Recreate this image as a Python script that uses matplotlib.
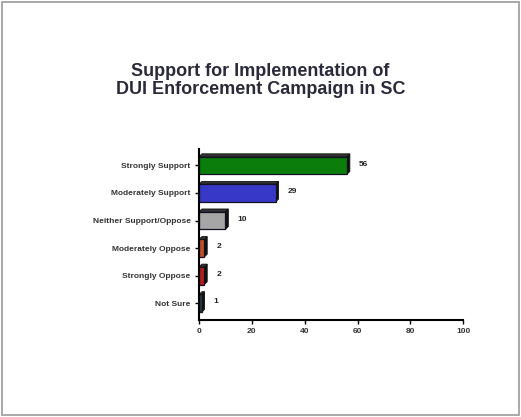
import matplotlib.pyplot as plt
from matplotlib.patches import Rectangle, Polygon

plt.rcParams['font.family'] = ['Liberation Sans', 'DejaVu Sans']

categories = ["Strongly Support", "Moderately Support", "Neither Support/Oppose",
              "Moderately Oppose", "Strongly Oppose", "Not Sure"]
values = [56, 29, 10, 2, 2, 1]
colors = ["#0b7d0b", "#3838c8", "#a6a6a6", "#c0502a", "#b81c1c", "#2c3a3a"]
xticks = [0, 20, 40, 60, 80, 100]

fig = plt.figure(figsize=(5.21, 4.17), dpi=100)
fig.patches.append(Rectangle((0.004, 0.004), 0.992, 0.992, transform=fig.transFigure,
                             fill=False, edgecolor="#999999", linewidth=1.2))

ax = fig.add_axes([0.382, 0.233, 0.507, 0.41])
pos = list(range(len(categories)))[::-1]
h = 0.64
dx, dy = 1.1, 0.1
for y, v, c in zip(pos, values, colors):
    # fake 3D: dark side and top faces behind the bar
    side = Polygon([(v, y - h / 2), (v + dx, y - h / 2 + dy), (v + dx, y + h / 2 + dy), (v, y + h / 2)],
                   closed=True, facecolor="#111111", edgecolor="#111111", linewidth=0.6)
    top = Polygon([(0, y + h / 2), (dx, y + h / 2 + dy), (v + dx, y + h / 2 + dy), (v, y + h / 2)],
                  closed=True, facecolor="#333333", edgecolor="#111111", linewidth=0.6)
    ax.add_patch(side)
    ax.add_patch(top)
    ax.barh(y, v, height=h, color=c, edgecolor="#111122", linewidth=0.9)
    ax.text(v + dx + 3.5, y + 0.05, str(v), va="center", ha="left",
            fontsize=6, fontweight="bold", color="#222222")

ax.set_xlim(0, 100)
ax.set_ylim(-0.6, 5.6)
ax.set_xticks(xticks)
ax.set_xticklabels([str(t) for t in xticks], fontsize=6, fontweight="bold", color="#333333")
ax.set_yticks(pos)
ax.set_yticklabels(categories, fontsize=6, fontweight="bold", color="#333333")
ax.tick_params(axis="both", length=3, width=1, pad=3)
for s in ["top", "right"]:
    ax.spines[s].set_visible(False)
ax.spines["left"].set_linewidth(1.5)
ax.spines["bottom"].set_linewidth(1.5)

fig.text(0.5, 0.807, "Support for Implementation of\nDUI Enforcement Campaign in SC",
         ha="center", va="center", fontsize=13, fontweight="bold", color="#2a2a3a",
         linespacing=1.05)

fig.savefig("out.png", dpi=100)
